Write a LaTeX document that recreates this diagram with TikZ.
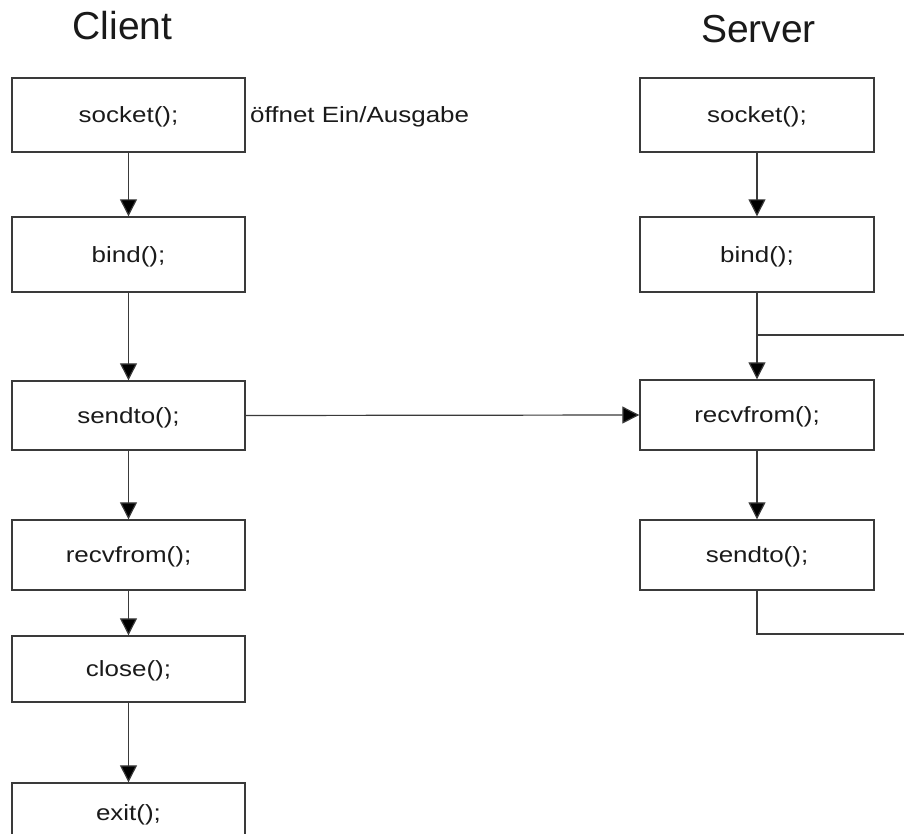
\documentclass[tikz,border=0pt]{standalone}
\usepackage{fontspec}
\setmainfont{Liberation Sans}
\newfontfamily\boxfont{Liberation Sans}[FakeStretch=1.18]
\usetikzlibrary{arrows.meta}
\definecolor{linecol}{HTML}{3A3A3A}
\definecolor{textcol}{HTML}{1A1A1A}
\tikzset{
  x=1pt, y=-1pt,
  stepbox/.style={draw=linecol, line width=1.4pt, fill=white, minimum width=233pt,
    inner sep=0pt, text=textcol, font=\boxfont\fontsize{22}{26}\selectfont,
    text height=15.8pt, text depth=0pt},
  title/.style={text=textcol, font=\fontsize{39}{46}\selectfont, anchor=base, inner sep=0pt},
  note/.style={text=textcol, font=\boxfont\fontsize{22}{26}\selectfont, anchor=base west, inner sep=0pt},
  flow/.style={draw=linecol, line width=1.2pt, -{Triangle[length=17pt,width=17pt,fill=black]}},
  plain/.style={draw=linecol, line width=1.2pt},
}
\begin{document}
\begin{tikzpicture}
\clip (0,0) rectangle (904,834);
\fill[white] (0,0) rectangle (904,834);

% titles
\node[title] (tc) at (122.5,40) {Client};
\node[title] (ts) at (758.5,43) {Server};

% client column
\node[stepbox, minimum height=74pt] (csock) at (128.5,115) {socket();};
\node[stepbox, minimum height=75pt] (cbind) at (128.5,254.5) {bind();};
\node[stepbox, minimum height=69pt] (csend) at (128.5,415.5) {sendto();};
\node[stepbox, minimum height=70pt] (crecv) at (128.5,555) {recvfrom();};
\node[stepbox, minimum height=66pt] (cclose) at (128.5,669) {close();};
\node[stepbox, minimum height=60pt] (cexit) at (128.5,813) {exit();};
\node[note] (note) at (250,123) {öffnet Ein/Ausgabe};

% server column
\node[stepbox, minimum width=234pt, minimum height=74pt] (ssock) at (757,115) {socket();};
\node[stepbox, minimum width=234pt, minimum height=75pt] (sbind) at (757,254.5) {bind();};
\node[stepbox, minimum width=234pt, minimum height=70pt] (srecv) at (757,415) {recvfrom();};
\node[stepbox, minimum width=234pt, minimum height=70pt] (ssend) at (757,555) {sendto();};

% loop coordinates at the picture edge
\coordinate (loopbot) at (904,634);
\coordinate (looptop) at (904,335);

% client connectors
\draw[flow] (csock) -- (cbind);
\draw[flow] (cbind) -- (csend);
\draw[flow] (csend) -- (crecv);
\draw[flow] (crecv) -- (cclose);
\draw[flow] (cclose) -- (cexit);

% client -> server
\draw[flow] (csend.east) -- (srecv.west);

% server connectors
\draw[flow] (ssock) -- (sbind);
\draw[plain] (looptop) -- (sbind.south |- looptop);
\draw[flow] (sbind) -- (srecv);
\draw[flow] (srecv) -- (ssend);
\draw[plain] (ssend.south) |- (loopbot);
\end{tikzpicture}
\end{document}
